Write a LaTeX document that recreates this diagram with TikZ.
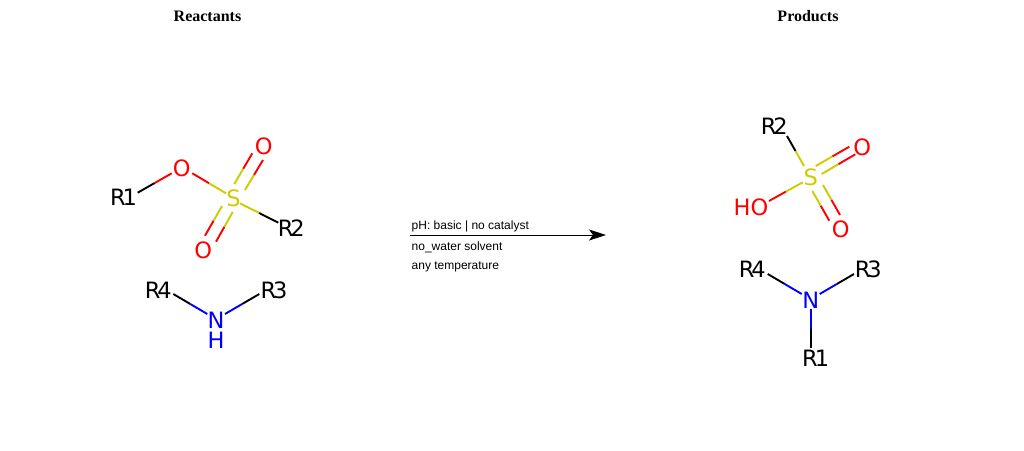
\documentclass[tikz,border=0pt]{standalone}
\usepackage{fontspec}
\setmainfont{Liberation Sans}
\newfontfamily\atomfont{DejaVu Sans}
\newfontfamily\titlefont{Liberation Serif}
\usetikzlibrary{calc,arrows.meta}
\definecolor{sulfur}{RGB}{204,204,0}
\definecolor{oxy}{RGB}{255,0,0}
\definecolor{nitro}{RGB}{0,0,255}
\newcommand{\Rg}[1]{R\kern-3pt #1}
\tikzset{
  atom/.style={inner sep=0pt,font=\atomfont\fontsize{22.5}{22.5}\selectfont},
  title/.style={inner sep=0pt,font=\titlefont\bfseries\fontsize{16}{16}\selectfont},
  cond/.style={inner sep=0pt,anchor=west,font=\fontsize{12}{12}\selectfont},
  bondline/.style={line width=1.9pt}
}
% \bond{node a}{offset}{node b}{offset}{colour a}{colour b}
\newcommand{\bond}[6]{%
  \draw[bondline,#5] ($(#1)+(#2)$) -- ($($(#1)+(#2)$)!0.5!($(#3)+(#4)$)$);
  \draw[bondline,#6] ($($(#1)+(#2)$)!0.5!($(#3)+(#4)$)$) -- ($(#3)+(#4)$);
}
\begin{document}
\begin{tikzpicture}[x=1pt,y=-1pt]
\useasboundingbox (0,0) rectangle (1024,450);
\node[title] (t1) at (207.5,16.5) {Reactants};
\node[title] (t2) at (808,16.5) {Products};
% reactant 1
\node[atom,black] (r1) at (123.5,197.5) {\Rg{1}};
\node[atom,oxy] (o1) at (181.7,168.3) {O};
\node[atom,sulfur] (s1) at (233.5,198.3) {S};
\node[atom,oxy] (ot) at (263.7,146.7) {O};
\node[atom,oxy] (ob) at (203.3,250) {O};
\node[atom,black] (r2) at (291.3,228) {\Rg{2}};
\bond{r1}{14.2,-4.8}{o1}{-10,5}{black}{oxy}
\bond{o1}{10.6,5}{s1}{-7.5,-5}{oxy}{sulfur}
\bond{s1}{6.5,5}{r2}{-13,-5.3}{sulfur}{black}
\bond{s1}{0.8,-14.3}{ot}{-11.4,6.6}{sulfur}{oxy}
\bond{s1}{11.5,-8.3}{ot}{-0.7,13.3}{sulfur}{oxy}
\bond{s1}{-11.5,7.7}{ob}{1.7,-14.3}{sulfur}{oxy}
\bond{s1}{-0.8,13.7}{ob}{12.7,-8.3}{sulfur}{oxy}
% reactant 2
\node[atom,black] (r4) at (158.3,290) {\Rg{4}};
\node[atom,black] (r3) at (274,290) {\Rg{3}};
\node[atom,nitro] (n1) at (216,320.2) {N};
\node[atom,nitro] (h1) at (216,340.7) {H};
\bond{r4}{15,4}{n1}{-8.7,-6.2}{black}{nitro}
\bond{r3}{-14.7,4}{n1}{9,-6.2}{black}{nitro}
% reaction arrow
\coordinate (as) at (410,235);
\coordinate (ae) at (606,235);
\draw[line width=0.8pt,-{Stealth[length=17pt,width=11pt,inset=4pt]}] (as) -- (ae);
\node[cond] (c1) at (411.5,226) {pH: basic | no catalyst};
\node[cond] (c2) at (411.5,247.5) {no\_water solvent};
\node[cond] (c3) at (411.5,267) {any temperature};
% product 1
\node[atom,black] (r2p) at (774.3,125.7) {\Rg{2}};
\node[atom,sulfur] (s2) at (810.7,177.7) {S};
\node[atom,oxy] (or) at (862.3,147.7) {O};
\node[atom,oxy] (obp) at (840.7,229.3) {O};
\node[atom,oxy] (ho) at (751,207) {HO};
\bond{r2p}{12.7,10.3}{s2}{-6.7,-11.7}{black}{sulfur}
\bond{s2}{5,-11.7}{or}{-13,-1}{sulfur}{oxy}
\bond{s2}{11,-3.7}{or}{-7,6.6}{sulfur}{oxy}
\bond{s2}{1.6,13.3}{obp}{-11.4,-8.6}{sulfur}{oxy}
\bond{s2}{12.3,7.3}{obp}{-0.7,-14.3}{sulfur}{oxy}
\bond{s2}{-8,4.6}{ho}{18,-6}{sulfur}{oxy}
% product 2
\node[atom,black] (r4p) at (752.3,269.3) {\Rg{4}};
\node[atom,black] (r3p) at (868.3,269.3) {\Rg{3}};
\node[atom,nitro] (n2) at (810.7,300) {N};
\node[atom,black] (r1p) at (815.7,358.3) {\Rg{1}};
\bond{r4p}{15.4,4.7}{n2}{-9,-6}{black}{nitro}
\bond{r3p}{-14.3,4.7}{n2}{9,-6}{black}{nitro}
\bond{r1p}{-4.7,-10.6}{n2}{0.3,9.3}{black}{nitro}
\end{tikzpicture}
\end{document}
